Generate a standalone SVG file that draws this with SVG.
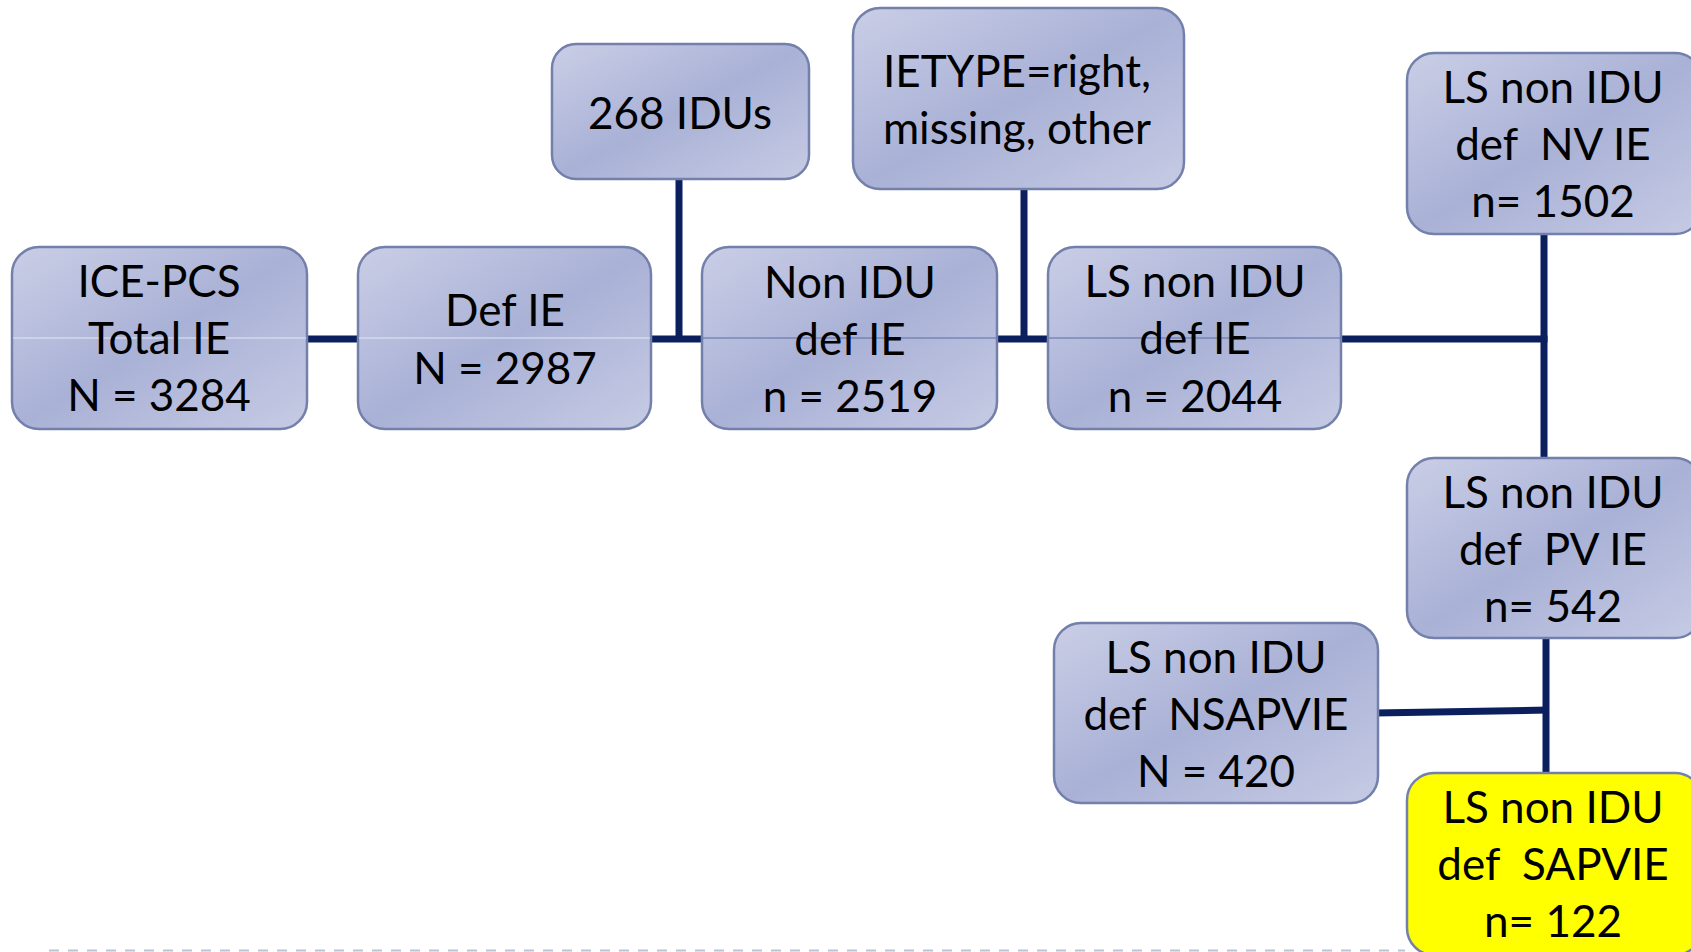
<svg xmlns="http://www.w3.org/2000/svg" width="1691" height="952" viewBox="0 0 1691 952">
<defs>
<linearGradient id="bg" x1="0" y1="0" x2="1" y2="1">
<stop offset="0" stop-color="#cacee6"/>
<stop offset="0.5" stop-color="#a9b1d6"/>
<stop offset="1" stop-color="#c6cbe4"/>
</linearGradient>
</defs>
<style>
.box{fill:url(#bg);stroke:#7380ab;stroke-width:2.5}
.yel{fill:#ffff00;stroke:#7380ab;stroke-width:2.5}
.t{font-family:Lato,"Liberation Sans",sans-serif;font-size:44px;fill:#000;text-anchor:middle}
.p{white-space:pre}
.c{stroke:#0b1f5e;stroke-width:7;fill:none}
.thinL{stroke:#e4e7f2;stroke-width:1.2}
.thinB{stroke:#5a6fa8;stroke-width:1.2}
</style>
<rect width="1691" height="952" fill="#ffffff"/>
<g id="connectors">
<line class="c" x1="300" y1="339" x2="1547.5" y2="339"/>
<line class="c" x1="679" y1="175" x2="679" y2="342"/>
<line class="c" x1="1024" y1="185" x2="1024" y2="342"/>
<line class="c" x1="1544" y1="230" x2="1544" y2="462"/>
<line class="c" x1="1546" y1="634" x2="1546" y2="777"/>
<line class="c" x1="1375" y1="713" x2="1549" y2="710"/>
</g>
<g id="n1">
<rect class="box" x="12" y="247" width="295" height="182" rx="27"/>
<line class="thinL" x1="13" y1="338" x2="306" y2="338"/>
<text class="t" x="159" y="297">ICE-PCS</text>
<text class="t" x="159" y="354">Total IE</text>
<text class="t" x="159" y="411">N = 3284</text>
</g>
<g id="n2">
<rect class="box" x="358" y="247" width="293" height="182" rx="27"/>
<line class="thinL" x1="359" y1="338" x2="650" y2="338"/>
<text class="t" x="505" y="326">Def IE</text>
<text class="t" x="505" y="384">N = 2987</text>
</g>
<g id="n3">
<rect class="box" x="702" y="247" width="295" height="182" rx="27"/>
<line class="thinB" x1="703" y1="338" x2="996" y2="338"/>
<text class="t" x="850" y="298">Non IDU</text>
<text class="t" x="850" y="355">def IE</text>
<text class="t" x="850" y="412">n = 2519</text>
</g>
<g id="n4">
<rect class="box" x="1048" y="247" width="293" height="182" rx="27"/>
<line class="thinB" x1="1049" y1="338" x2="1340" y2="338"/>
<text class="t" x="1195" y="297">LS non IDU</text>
<text class="t" x="1195" y="354">def IE</text>
<text class="t" x="1195" y="412">n = 2044</text>
</g>
<g id="n5">
<rect class="box" x="552" y="44" width="257" height="135" rx="24"/>
<text class="t" x="680" y="129">268 IDUs</text>
</g>
<g id="n6">
<rect class="box" x="853" y="8" width="331" height="181" rx="27"/>
<text class="t" x="1017" y="87">IETYPE=right,</text>
<text class="t" x="1017" y="144">missing, other</text>
</g>
<g id="n7">
<rect class="box" x="1407" y="53" width="295" height="181" rx="27"/>
<text class="t" x="1553" y="103">LS non IDU</text>
<text class="t p" x="1553" y="160" xml:space="preserve">def  NV IE</text>
<text class="t" x="1553" y="217">n= 1502</text>
</g>
<g id="n8">
<rect class="box" x="1407" y="458" width="295" height="180" rx="27"/>
<text class="t" x="1553" y="508">LS non IDU</text>
<text class="t p" x="1553" y="565" xml:space="preserve">def  PV IE</text>
<text class="t" x="1553" y="622">n= 542</text>
</g>
<g id="n9">
<rect class="box" x="1054" y="623" width="324" height="180" rx="27"/>
<text class="t" x="1216" y="673">LS non IDU</text>
<text class="t p" x="1216" y="730" xml:space="preserve">def  NSAPVIE</text>
<text class="t" x="1216" y="787">N = 420</text>
</g>
<g id="n10">
<rect class="yel" x="1407" y="773" width="295" height="182" rx="27"/>
<text class="t" x="1553" y="823">LS non IDU</text>
<text class="t p" x="1553" y="880" xml:space="preserve">def  SAPVIE</text>
<text class="t" x="1553" y="937">n= 122</text>
</g>
<line x1="49" y1="950.5" x2="1405" y2="950.5" stroke="#b9c4d4" stroke-width="2" stroke-dasharray="10 9"/>
</svg>
